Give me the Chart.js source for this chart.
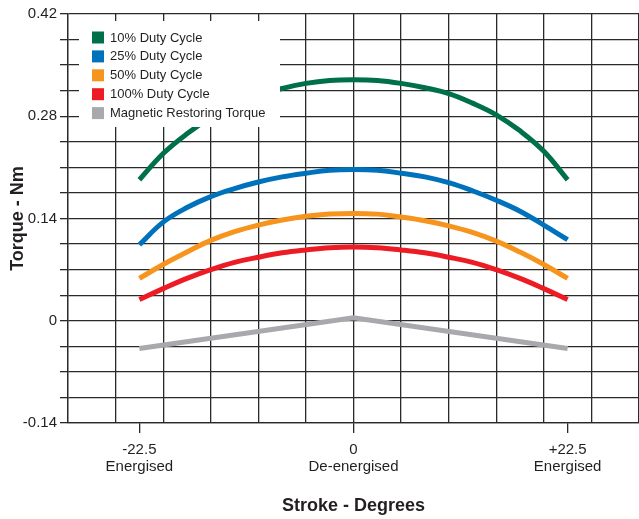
<!DOCTYPE html>
<html>
<head>
<meta charset="utf-8">
<script src="https://cdn.jsdelivr.net/npm/chart.js@4/dist/chart.umd.min.js"></script>
<style>
  html, body { margin: 0; padding: 0; background: #fff; }
</style>
</head>
<body>
<canvas id="torqueChart" width="639" height="519"></canvas>
<script>
// stroke positions (degrees) and torque (Nm) for each duty cycle
let strokeDeg = [-22.5, -20, -17.5, -15, -12.5, -10, -7.5, -5, -2.5, 0, 2.5, 5, 7.5, 10, 12.5, 15, 17.5, 20, 22.5]
let duty10  = [0.193, 0.229, 0.256, 0.278, 0.295, 0.309, 0.318, 0.325, 0.329, 0.330, 0.329, 0.325, 0.319, 0.311, 0.298, 0.282, 0.260, 0.232, 0.193]
let duty25  = [0.104, 0.135, 0.155, 0.170, 0.181, 0.190, 0.197, 0.202, 0.206, 0.207, 0.206, 0.202, 0.197, 0.189, 0.178, 0.165, 0.150, 0.131, 0.111]
let duty50  = [0.058, 0.077, 0.094, 0.110, 0.122, 0.131, 0.138, 0.143, 0.146, 0.147, 0.146, 0.142, 0.137, 0.130, 0.121, 0.109, 0.094, 0.077, 0.058]
let duty100 = [0.029, 0.044, 0.058, 0.070, 0.080, 0.087, 0.093, 0.097, 0.100, 0.101, 0.100, 0.097, 0.093, 0.087, 0.080, 0.070, 0.058, 0.044, 0.029]

let restoreDeg = [-22.5, 0, 22.5]
let restoring  = [-0.038, 0.004, -0.038]

let xTickValues = [-22.5, 0, 22.5]
let xTickLabels = [['-22.5', 'Energised'], ['0', 'De-energised'], ['+22.5', 'Energised']]
let yTickValues = [-0.14, 0, 0.14, 0.28, 0.42]
let yTickLabels = ['-0.14', '0', '0.14', '0.28', '0.42']

const ink = '#231f20'
const gridInk = '#2a2a2a'
const font = "'Liberation Sans', Arial, sans-serif"

Chart.defaults.font.family = font
Chart.defaults.color = ink

function points(xs, ys) {
  return xs.map((x, i) => ({ x: x, y: ys[i] }))
}

function sameVal(a, b) { return Math.abs(a - b) < 1e-9 }

// white legend panel sitting on top of the grid, top-left of the plot
const legendPanel = {
  id: 'legendPanel',
  afterDatasetsDraw(chart) {
    const ctx = chart.ctx
    ctx.save()
    ctx.fillStyle = '#fff'
    ctx.fillRect(79, 21, 201, 106)
    ctx.font = '13px ' + font
    ctx.textBaseline = 'middle'
    chart.data.datasets.forEach((ds, i) => {
      const cy = 37.5 + i * 18.9
      ctx.fillStyle = ds.borderColor
      ctx.fillRect(92, cy - 6, 12, 12)
      ctx.fillStyle = ink
      ctx.fillText(ds.label, 110, cy + 0.5)
    })
    ctx.restore()
  }
}

let torqueChart = new Chart(document.getElementById('torqueChart').getContext('2d'), {
  type: 'line',
  data: {
    datasets: [
      { label: '10% Duty Cycle', data: points(strokeDeg, duty10), borderColor: '#00704a' },
      { label: '25% Duty Cycle', data: points(strokeDeg, duty25), borderColor: '#0072bc' },
      { label: '50% Duty Cycle', data: points(strokeDeg, duty50), borderColor: '#f7941d' },
      { label: '100% Duty Cycle', data: points(strokeDeg, duty100), borderColor: '#ed1c24' },
      { label: 'Magnetic Restoring Torque', data: points(restoreDeg, restoring), borderColor: '#a7a9ac', tension: 0 }
    ]
  },
  options: {
    responsive: false,
    animation: false,
    layout: { padding: { top: 14, right: 0, bottom: 0, left: 0 } },
    elements: {
      point: { radius: 0 },
      line: { borderWidth: 5, borderCapStyle: 'butt', tension: 0.4, fill: false }
    },
    plugins: { legend: { display: false }, tooltip: { enabled: false } },
    scales: {
      x: {
        type: 'linear',
        min: -30,
        max: 30,
        afterBuildTicks(scale) {
          let vals = []
          for (let v = -30; v <= 30; v += 5) vals.push(v)
          vals = vals.concat([-22.5, 22.5]).sort((a, b) => a - b)
          scale.ticks = vals.map(v => ({ value: v }))
        },
        afterFit(scale) {
          scale.height = 96
          scale.paddingLeft = 0
          scale.paddingRight = 0
        },
        grid: {
          color: c => (c.tick && c.tick.value % 5 === 0) ? gridInk : 'rgba(0,0,0,0)',
          tickColor: c => (c.tick && xTickValues.includes(c.tick.value)) ? gridInk : 'rgba(0,0,0,0)',
          lineWidth: 1.3,
          tickLength: 10
        },
        border: { color: gridInk, width: 1.3 },
        ticks: {
          autoSkip: false,
          maxRotation: 0,
          padding: 8,
          color: ink,
          font: { size: 15, lineHeight: 1.15 },
          callback: v => {
            let i = xTickValues.indexOf(v)
            return i >= 0 ? xTickLabels[i] : ''
          }
        },
        title: {
          display: true,
          text: 'Stroke - Degrees',
          color: ink,
          font: { size: 18, weight: 'bold' },
          padding: { top: 0, bottom: 2 }
        }
      },
      y: {
        min: -0.14,
        max: 0.42,
        afterBuildTicks(scale) {
          let vals = []
          for (let i = 0; i <= 16; i++) vals.push(Math.round((-0.14 + i * 0.035) * 1000) / 1000)
          scale.ticks = vals.map(v => ({ value: v }))
        },
        afterFit(scale) { scale.width = 68 },
        grid: { color: gridInk, lineWidth: 1.3, tickLength: 8 },
        border: { color: gridInk, width: 1.3 },
        ticks: {
          autoSkip: false,
          padding: 3,
          color: ink,
          font: { size: 15 },
          callback: v => {
            let i = yTickValues.findIndex(t => sameVal(t, v))
            return i >= 0 ? yTickLabels[i] : ''
          }
        },
        title: {
          display: true,
          text: 'Torque - Nm',
          color: ink,
          font: { size: 18, weight: 'bold' },
          padding: { top: 7, bottom: 0 }
        }
      }
    }
  },
  plugins: [legendPanel]
})
</script>
</body>
</html>
